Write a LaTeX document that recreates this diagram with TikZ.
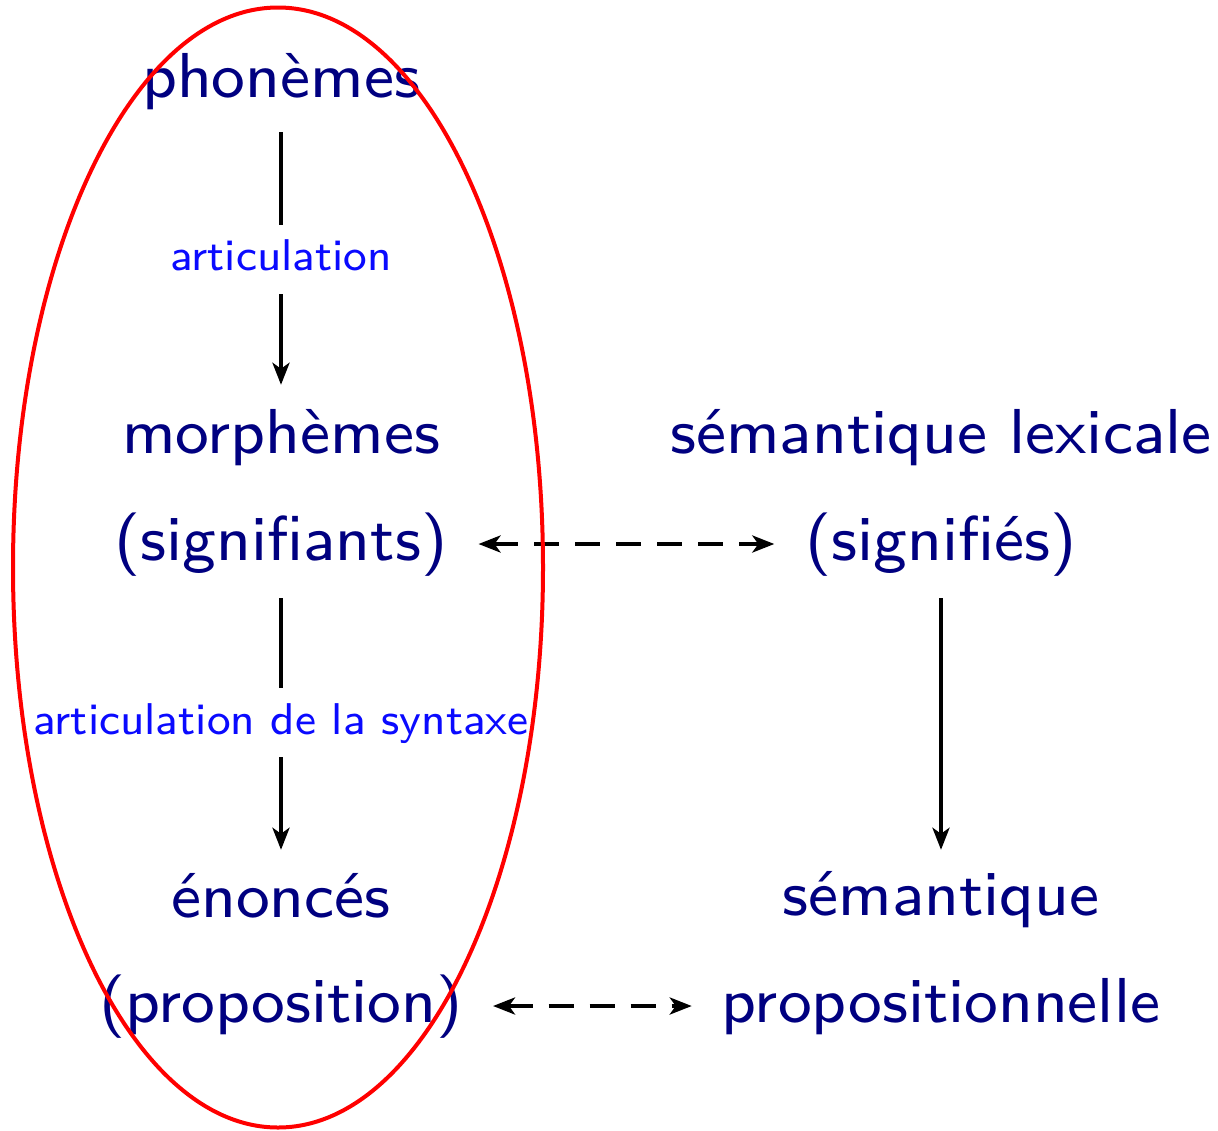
\documentclass[tikz,border=0pt]{standalone}
\usepackage{fontspec}
\setsansfont{lmsans8-regular.otf}
\usetikzlibrary{arrows.meta}
\definecolor{navytext}{RGB}{0,0,128}
\definecolor{labblue}{RGB}{10,10,255}
\begin{document}
\begin{tikzpicture}[x=1pt,y=-1pt,
  term/.style={anchor=base, inner sep=0pt, text=navytext, font=\fontsize{63.5}{70}\selectfont\sffamily, text height=48pt, text depth=16pt},
  lab/.style={fill=white, text=labblue, font=\fontsize{44.5}{50}\selectfont\sffamily, inner xsep=2pt, inner ysep=14pt, text height=32pt, text depth=9pt},
  solidarrow/.style={line width=4pt, -{Stealth[length=22pt,width=17pt,inset=6pt]}},
  dasharrow/.style={line width=4pt, dash pattern=on 25pt off 16pt, {Stealth[length=22pt,width=17pt,inset=6pt]}-{Stealth[length=22pt,width=17pt,inset=6pt]}}
]
\useasboundingbox (0,0) rectangle (1218,1130);
\node[term] (phon) at (281,97) {phonèmes};
\node[term] (morph) at (281,453) {morphèmes};
\node[term] (signifiants) at (281,560) {(signifiants)};
\node[term] (enonces) at (281,917) {énoncés};
\node[term] (proposition) at (281,1022) {(proposition)};
\node[term] (semlex) at (941,453) {sémantique lexicale};
\node[term] (signifies) at (941,560) {(signifiés)};
\node[term] (sem) at (941,915) {sémantique};
\node[term] (propnelle) at (941,1022) {propositionnelle};

\draw[solidarrow, shorten <=19pt, shorten >=20pt] (phon) -- node[lab] (lab1) {articulation} (morph);
\draw[solidarrow, shorten <=22pt, shorten >=19pt] (signifiants) -- node[lab] (lab2) {articulation de la syntaxe} (enonces);
\draw[solidarrow, shorten <=22pt, shorten >=17pt] (signifies) -- (sem);
\draw[dasharrow, shorten <=31pt, shorten >=31pt] (signifiants) -- (signifies);
\draw[dasharrow, shorten <=30pt, shorten >=30pt] (proposition) -- (propnelle);

\draw[red, line width=4pt] (278,567.5) ellipse [x radius=265, y radius=560];
\end{tikzpicture}
\end{document}
